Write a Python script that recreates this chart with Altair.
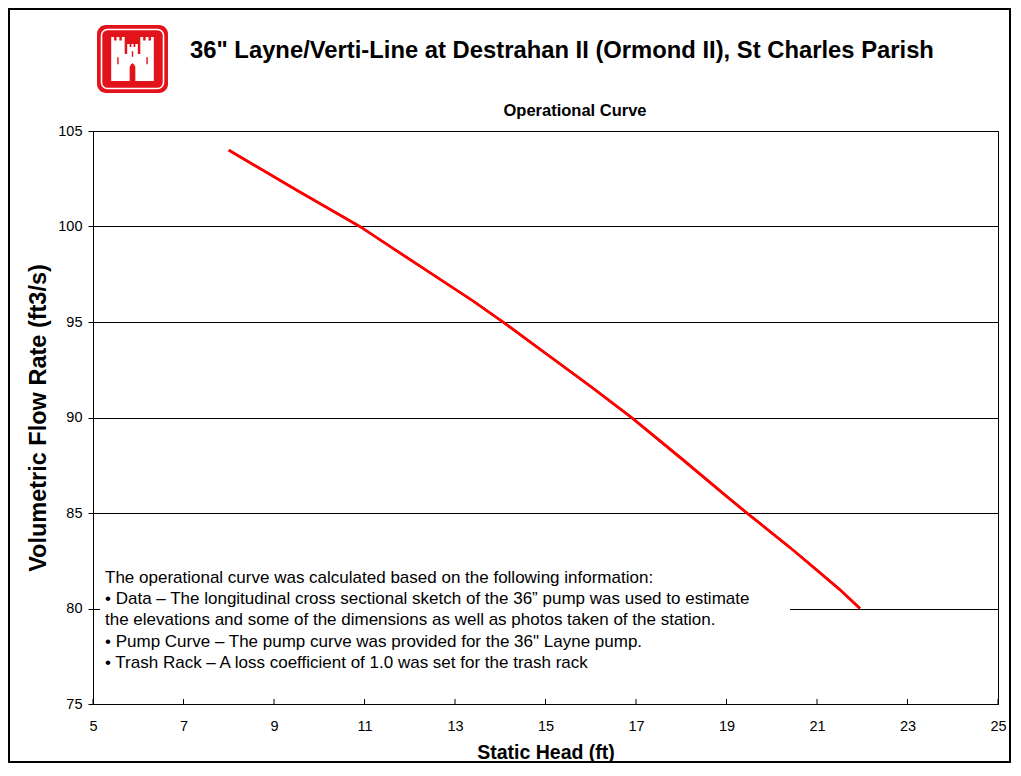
import altair as alt
import pandas as pd

# ---- data ----
head_ft = [8.0, 9.5, 10.9, 11.6, 12.5, 13.4, 14.06, 15.0, 16.0, 16.9, 18.0, 19.0, 19.45, 20.4, 21.0, 21.5, 21.95]
flow_cfs = [104.0, 101.9, 100.0, 98.9, 97.5, 96.1, 95.0, 93.36, 91.62, 90.0, 87.86, 85.88, 85.0, 83.2, 82.0, 81.0, 80.0]
x_ticks = [5, 7, 9, 11, 13, 15, 17, 19, 21, 23, 25]
y_ticks = [75, 80, 85, 90, 95, 100, 105]
title_text = '36" Layne/Verti-Line at Destrahan II (Ormond II), St Charles Parish'
subtitle_text = "Operational Curve"
x_title = "Static Head (ft)"
y_title = "Volumetric Flow Rate (ft3/s)"
note_lines = [
    "The operational curve was calculated based on the following information:",
    "\u2022 Data \u2013 The longitudinal cross sectional sketch of the 36\u201d pump was used to estimate",
    "the elevations and some of the dimensions as well as photos taken of the station.",
    "\u2022 Pump Curve \u2013 The pump curve was provided for the 36\" Layne pump.",
    "\u2022 Trash Rack \u2013 A loss coefficient of 1.0 was set for the trash rack",
]

FONT = "Liberation Sans"
RED = "#FF0000"
LOGO_RED = "#E3131B"
W, H = 905, 573
PAD = {"left": 85, "top": 123, "right": 13, "bottom": 59}

df = pd.DataFrame({"head": head_ft, "flow": flow_cfs})
ticks_df = pd.DataFrame({"v": x_ticks})
one = alt.Data(values=[{"k": 1}])

xscale = alt.Scale(domain=[5, 25], nice=False, zero=False)
yscale = alt.Scale(domain=[75, 105], nice=False, zero=False)

base_x = alt.X(
    "head:Q", scale=xscale, title=x_title,
    axis=alt.Axis(values=x_ticks, grid=False, ticks=False, labelPadding=15,
                  labelFontSize=14.5, labelFont=FONT, labelColor="black",
                  titleFont=FONT, titleFontSize=19.5, titleFontWeight="bold",
                  titleColor="black", titlePadding=11, domainColor="black",
                  labelFlush=False),
)
base_y = alt.Y(
    "flow:Q", scale=yscale, title=y_title,
    axis=alt.Axis(values=y_ticks, grid=True, gridColor="black", gridWidth=1,
                  gridOpacity=1, ticks=True, tickSize=5, tickColor="black",
                  labelPadding=6, labelFontSize=14.5, labelFont=FONT,
                  labelColor="black", titleFont=FONT, titleFontSize=23.5,
                  titleFontWeight="bold", titleColor="black", titlePadding=7,
                  domainColor="black", labelFlush=False),
)

curve = alt.Chart(df).mark_line(color=RED, strokeWidth=2.6, clip=False).encode(
    x=base_x, y=base_y, order=alt.Order("head:Q")
)

xticks = alt.Chart(ticks_df).mark_rule(color="black", strokeWidth=1).encode(
    x=alt.X("v:Q", scale=xscale), y=alt.value(H), y2=alt.value(H - 5)
)

note_box = alt.Chart(one).mark_rect(color="white").encode(
    x=alt.value(7), x2=alt.value(697), y=alt.value(434), y2=alt.value(541)
)

note = alt.Chart(one).mark_text(
    text=note_lines, align="left", baseline="middle", font=FONT, fontSize=17,
    lineHeight=21.2, color="black"
).encode(x=alt.value(12), y=alt.value(447))

title = alt.Chart(one).mark_text(
    text=title_text, align="left", baseline="middle", font=FONT, fontSize=23.8,
    fontWeight="bold", color="black"
).encode(x=alt.value(97), y=alt.value(-80))

subtitle = alt.Chart(one).mark_text(
    text=subtitle_text, align="center", baseline="middle", font=FONT,
    fontSize=16.5, fontWeight="bold", color="black"
).encode(x=alt.value(482), y=alt.value(-20))

border = alt.Chart(one).mark_rect(fill=None, stroke="black", strokeWidth=2).encode(
    x=alt.value(-84), x2=alt.value(917), y=alt.value(-122), y2=alt.value(631)
)

logo_bg = alt.Chart(one).mark_rect(color=LOGO_RED, cornerRadius=9).encode(
    x=alt.value(4), x2=alt.value(75), y=alt.value(-106), y2=alt.value(-38)
)
logo_frame = alt.Chart(one).mark_rect(
    fill=None, stroke="white", strokeWidth=1.6, cornerRadius=6
).encode(x=alt.value(8.5), x2=alt.value(70.5), y=alt.value(-101.5), y2=alt.value(-42.5))

castle_path = (
    "M -0.60 -0.62 L -0.52 -0.62 L -0.52 -0.52 L -0.45 -0.52 L -0.45 -0.62 L -0.37 -0.62 "
    "L -0.37 -0.52 L -0.30 -0.52 L -0.30 -0.62 L -0.22 -0.62 L -0.22 0.62 L -0.60 0.62 Z "
    "M 0.22 -0.62 L 0.30 -0.62 L 0.30 -0.52 L 0.37 -0.52 L 0.37 -0.62 L 0.45 -0.62 "
    "L 0.45 -0.52 L 0.52 -0.52 L 0.52 -0.62 L 0.60 -0.62 L 0.60 0.62 L 0.22 0.62 Z "
    "M -0.15 -0.42 L -0.08 -0.42 L -0.08 -0.34 L -0.03 -0.34 L -0.03 -0.42 L 0.03 -0.42 "
    "L 0.03 -0.34 L 0.08 -0.34 L 0.08 -0.42 L 0.15 -0.42 L 0.15 0.62 L -0.15 0.62 Z "
    "M -0.23 -0.14 L 0.23 -0.14 L 0.23 0.62 L -0.23 0.62 Z"
)
door_path = (
    "M -0.08 0.62 L -0.08 0.22 Q 0 0.02 0.08 0.22 L 0.08 0.62 Z "
    "M -0.43 -0.05 L -0.39 -0.05 L -0.39 0.15 L -0.43 0.15 Z "
    "M 0.39 -0.05 L 0.43 -0.05 L 0.43 0.15 L 0.39 0.15 Z "
    "M -0.02 -0.22 L 0.02 -0.22 L 0.02 -0.06 L -0.02 -0.06 Z"
)
castle = alt.Chart(one).mark_point(
    shape=castle_path, filled=True, fill="white", opacity=1, strokeWidth=0, size=5041
).encode(x=alt.value(39.5), y=alt.value(-72))
door = alt.Chart(one).mark_point(
    shape=door_path, filled=True, fill=LOGO_RED, opacity=1, strokeWidth=0, size=5041
).encode(x=alt.value(39.5), y=alt.value(-72))

chart = alt.layer(
    curve, xticks, note_box, note, curve, title, subtitle, border,
    logo_bg, logo_frame, castle, door
).properties(
    width=W, height=H, padding=PAD, autosize="none", background="white"
).configure_view(
    stroke="black", strokeWidth=1
).configure_axis(
    domainWidth=1
)

chart.save("out.html", embed_options={"renderer": "svg", "actions": False})
